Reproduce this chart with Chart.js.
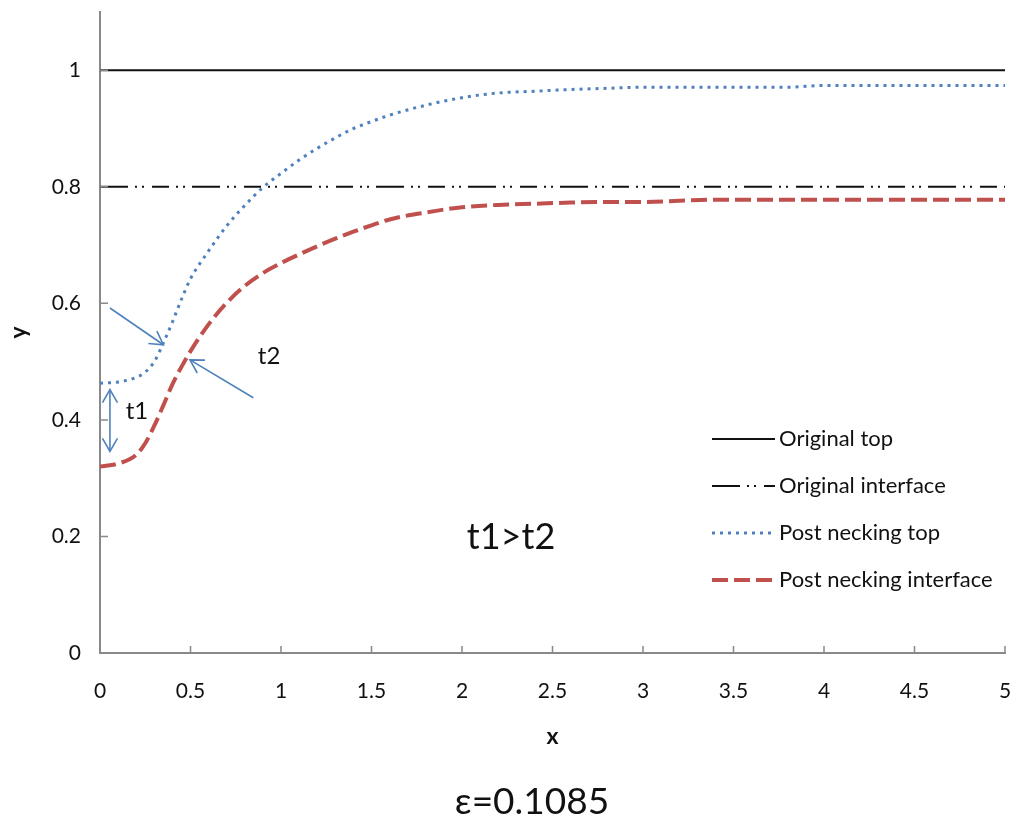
<!DOCTYPE html>
<html>
<head>
<meta charset="utf-8">
<script src="https://cdn.jsdelivr.net/npm/chart.js@4.4.0/dist/chart.umd.min.js"></script>
<style>
  html, body { margin: 0; padding: 0; background: #fff; }
  canvas { display: block; }
</style>
</head>
<body>
<canvas id="neckChart" width="1016" height="818"></canvas>
<script>
// tick values
const xTicks = [0, 0.5, 1, 1.5, 2, 2.5, 3, 3.5, 4, 4.5, 5];
const yTicks = [0, 0.2, 0.4, 0.6, 0.8, 1];

// original (flat) profiles
const originalX = [0, 5];
const originalTop = [1, 1];
const originalInterface = [0.8, 0.8];

// post necking profiles
const neckX = [0, 0.1, 0.2, 0.25, 0.3, 0.35, 0.4, 0.45, 0.5, 0.6, 0.7, 0.8, 0.9, 1.0,
  1.1, 1.2, 1.3, 1.4, 1.5, 1.6, 1.8, 2.0, 2.2, 2.4, 2.6, 2.8, 3.0, 3.2, 3.4, 3.6, 3.8,
  4.0, 4.5, 5.0];
const neckTop = [0.463, 0.465, 0.473, 0.482, 0.500, 0.532, 0.568, 0.607, 0.642, 0.690,
  0.733, 0.768, 0.799, 0.823, 0.846, 0.866, 0.884, 0.900, 0.912, 0.923, 0.940, 0.953,
  0.961, 0.964, 0.967, 0.969, 0.971, 0.971, 0.971, 0.971, 0.971, 0.974, 0.974, 0.974];
const neckInterface = [0.320, 0.325, 0.340, 0.360, 0.390, 0.425, 0.461, 0.491, 0.518,
  0.564, 0.601, 0.630, 0.652, 0.669, 0.684, 0.698, 0.711, 0.723, 0.734, 0.744, 0.756,
  0.765, 0.769, 0.771, 0.773, 0.774, 0.774, 0.776, 0.778, 0.778, 0.778, 0.778, 0.778,
  0.778];

const seriesNames = ["Original top", "Original interface", "Post necking top", "Post necking interface"];
const strainLabel = "\u03b5=0.1085";

const FONT = "Lato, 'Open Sans', sans-serif";
const AXIS_GREY = "#898989";
const BLUE = "#4f81bd";
const RED = "#c0504d";

function toPoints(xs, ys) {
  return xs.map((x, i) => ({ x: x, y: ys[i] }));
}

// annotation arrows and notes, in data units
const notes = {
  arrows: [
    { from: [0.055, 0.592], to: [0.350, 0.529], heads: ["end"] },
    { from: [0.847, 0.438], to: [0.497, 0.503], heads: ["end"] },
    { from: [0.055, 0.346], to: [0.055, 0.452], heads: ["start", "end"] }
  ],
  labels: [
    { text: "t1", at: [0.204, 0.414], size: 24 },
    { text: "t2", at: [0.934, 0.509], size: 24 },
    { text: "t1>t2", at: [2.271, 0.198], size: 36 }
  ]
};

function arrowHead(ctx, tipX, tipY, fromX, fromY) {
  const ang = Math.atan2(fromY - tipY, fromX - tipX);
  const len = 15, spread = Math.PI / 6;
  ctx.beginPath();
  ctx.moveTo(tipX + len * Math.cos(ang - spread), tipY + len * Math.sin(ang - spread));
  ctx.lineTo(tipX, tipY);
  ctx.lineTo(tipX + len * Math.cos(ang + spread), tipY + len * Math.sin(ang + spread));
  ctx.stroke();
}

function noScalePadding(s) {
  s.paddingLeft = 0;
  s.paddingRight = 0;
  s.paddingTop = 0;
  s.paddingBottom = 0;
}

const insideTicks = {
  id: "insideTicks",
  afterDraw(chart) {
    const { ctx, scales: { x, y } } = chart;
    ctx.save();
    ctx.strokeStyle = AXIS_GREY;
    ctx.lineWidth = 1.5;
    ctx.beginPath();
    xTicks.forEach(v => {
      const px = x.getPixelForValue(v);
      ctx.moveTo(px, y.bottom);
      ctx.lineTo(px, y.bottom - 7);
    });
    yTicks.forEach(v => {
      const py = y.getPixelForValue(v);
      ctx.moveTo(x.left, py);
      ctx.lineTo(x.left + 8, py);
    });
    ctx.stroke();
    ctx.restore();
  }
};

const annotations = {
  id: "annotations",
  afterDraw(chart) {
    const { ctx, chartArea, scales: { x, y } } = chart;
    ctx.save();
    ctx.strokeStyle = BLUE;
    ctx.lineWidth = 1.6;
    notes.arrows.forEach(a => {
      const x1 = x.getPixelForValue(a.from[0]), y1 = y.getPixelForValue(a.from[1]);
      const x2 = x.getPixelForValue(a.to[0]), y2 = y.getPixelForValue(a.to[1]);
      ctx.beginPath();
      ctx.moveTo(x1, y1);
      ctx.lineTo(x2, y2);
      ctx.stroke();
      if (a.heads.includes("end")) arrowHead(ctx, x2, y2, x1, y1);
      if (a.heads.includes("start")) arrowHead(ctx, x1, y1, x2, y2);
    });
    ctx.fillStyle = "#111";
    ctx.textAlign = "center";
    ctx.textBaseline = "middle";
    notes.labels.forEach(l => {
      ctx.font = l.size + "px " + FONT;
      ctx.fillText(l.text, x.getPixelForValue(l.at[0]), y.getPixelForValue(l.at[1]));
    });
    // strain caption under the chart
    ctx.font = "37px " + FONT;
    ctx.fillText(strainLabel, chartArea.left + 432, chart.height - 16);
    ctx.restore();
  }
};

// legend drawn inside the plot, lower right
const innerLegend = {
  id: "innerLegend",
  afterDraw(chart) {
    const { ctx, chartArea } = chart;
    const left = chartArea.right - 293;
    const top = chartArea.top + 427;
    ctx.save();
    ctx.font = "22px " + FONT;
    ctx.textBaseline = "middle";
    ctx.textAlign = "left";
    chart.data.datasets.forEach((ds, i) => {
      const rowY = top + i * 47;
      ctx.strokeStyle = ds.borderColor;
      ctx.lineWidth = ds.borderWidth;
      ctx.setLineDash(ds.borderDash || []);
      ctx.beginPath();
      ctx.moveTo(left, rowY);
      ctx.lineTo(left + 63, rowY);
      ctx.stroke();
      ctx.setLineDash([]);
      ctx.fillStyle = "#111";
      ctx.fillText(ds.label, left + 67, rowY);
    });
    ctx.restore();
  }
};

const ctx = document.getElementById("neckChart").getContext("2d");
new Chart(ctx, {
  type: "line",
  data: {
    datasets: [
      {
        label: seriesNames[0],
        data: toPoints(originalX, originalTop),
        borderColor: "#111",
        borderWidth: 2,
        pointRadius: 0
      },
      {
        label: seriesNames[1],
        data: toPoints(originalX, originalInterface),
        borderColor: "#111",
        borderWidth: 2,
        borderDash: [28, 7, 2, 5, 2, 8, 17, 7, 2, 5, 2, 7],
        pointRadius: 0
      },
      {
        label: seriesNames[2],
        data: toPoints(neckX, neckTop),
        borderColor: BLUE,
        borderWidth: 3,
        borderDash: [3, 5],
        pointRadius: 0,
        cubicInterpolationMode: "monotone"
      },
      {
        label: seriesNames[3],
        data: toPoints(neckX, neckInterface),
        borderColor: RED,
        borderWidth: 4,
        borderDash: [16, 6],
        pointRadius: 0,
        cubicInterpolationMode: "monotone"
      }
    ]
  },
  options: {
    responsive: false,
    animation: false,
    layout: { padding: { left: 0, right: 11, top: 12, bottom: 31.5 } },
    plugins: {
      legend: { display: false },
      tooltip: { enabled: false },
      title: { display: false }
    },
    scales: {
      x: {
        type: "linear",
        min: 0,
        max: 5,
        afterBuildTicks: s => { s.ticks = xTicks.map(v => ({ value: v })); },
        afterFit: s => { s.height = 133.5; noScalePadding(s); },
        grid: { display: false, drawTicks: false },
        border: { color: AXIS_GREY, width: 2 },
        ticks: {
          padding: 26,
          maxRotation: 0,
          color: "#111",
          font: { family: FONT, size: 21 },
          callback: v => String(v)
        },
        title: {
          display: true,
          text: "x",
          color: "#111",
          font: { family: FONT, size: 23, weight: "bold" },
          padding: { top: 0, bottom: 36 }
        }
      },
      y: {
        type: "linear",
        min: 0,
        max: 1.1,
        afterBuildTicks: s => { s.ticks = yTicks.map(v => ({ value: v })); },
        afterFit: s => { s.width = 100; noScalePadding(s); },
        grid: { display: false, drawTicks: false },
        border: { color: AXIS_GREY, width: 2 },
        ticks: {
          padding: 19,
          color: "#111",
          font: { family: FONT, size: 21 },
          callback: v => String(v)
        },
        title: {
          display: true,
          text: "y",
          color: "#111",
          font: { family: FONT, size: 23, weight: "bold" },
          padding: { top: 5, bottom: 0 }
        }
      }
    }
  },
  plugins: [insideTicks, annotations, innerLegend]
});
</script>
</body>
</html>
